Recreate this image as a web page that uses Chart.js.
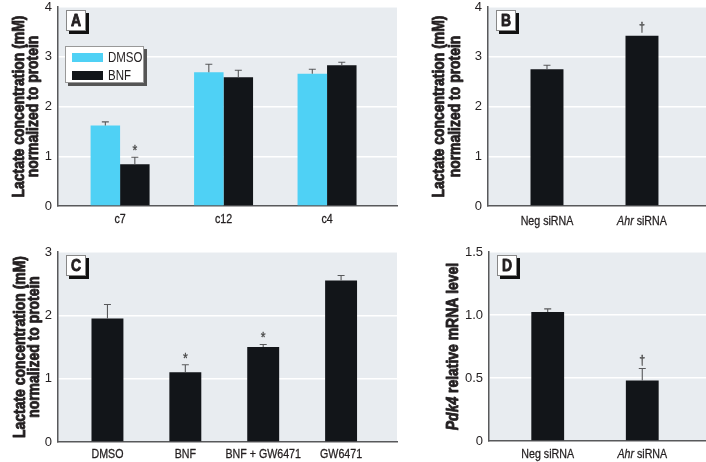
<!DOCTYPE html>
<html>
<head>
<meta charset="utf-8">
<script src="https://cdn.jsdelivr.net/npm/chart.js@4.4.1/dist/chart.umd.min.js"></script>
<style>
  body { margin: 0; background: #fff; width: 706px; height: 462px; position: relative; overflow: hidden; }
  canvas { position: absolute; }
</style>
</head>
<body>
<canvas id="cA" width="400" height="230" style="left:0;top:0"></canvas>
<canvas id="cB" width="276" height="230" style="left:430px;top:0"></canvas>
<canvas id="cC" width="400" height="232" style="left:0;top:230px"></canvas>
<canvas id="cD" width="276" height="232" style="left:430px;top:230px"></canvas>
<script>
// panel A
const catsA = ['c7', 'c12', 'c4'];
const dmsoA = [1.62, 2.69, 2.66];
const dmsoErrA = [0.07, 0.16, 0.09];
const bnfA = [0.84, 2.59, 2.83];
const bnfErrA = [0.14, 0.14, 0.06];
const bnfMarksA = ['*', '', ''];

// panel B
const catsB = ['Neg siRNA', 'Ahr siRNA'];
const valsB = [2.75, 3.42];
const errB = [0.08, 0.0];
const marksB = ['', '†'];

// panel C
const catsC = ['DMSO', 'BNF', 'BNF + GW6471', 'GW6471'];
const valsC = [1.95, 1.10, 1.50, 2.55];
const errC = [0.22, 0.12, 0.04, 0.08];
const marksC = ['', '*', '*', ''];

// panel D
const catsD = ['Neg siRNA', 'Ahr siRNA'];
const valsD = [1.024, 0.48];
const errD = [0.025, 0.095];
const marksD = ['', '†'];

const lactateTitle = ['Lactate concentration (mM)', 'normalized to protein'];
const pdkTitle = ['Pdk4 relative mRNA level'];

// no narrow font installed: squeeze Liberation Sans sideways instead
const FONT = "'Liberation Sans', Arial, sans-serif";
const SQUEEZE = 0.82;
const INK = '#231f20';
const PLOT_BG = '#e8ecf0';
const AXIS = '#58595b';
const CYAN = '#4fd1f5';
const BLACK = '#121519';
const ITALIC_WORDS = ['Ahr', 'Pdk4'];

function richParts(text) {
  const parts = [];
  let rest = text;
  while (rest.length) {
    let found = null, idx = -1;
    for (const w of ITALIC_WORDS) {
      const k = rest.indexOf(w);
      if (k >= 0 && (idx < 0 || k < idx)) { idx = k; found = w; }
    }
    if (!found) { parts.push({ t: rest, it: false }); break; }
    if (idx > 0) parts.push({ t: rest.slice(0, idx), it: false });
    parts.push({ t: found, it: true });
    rest = rest.slice(idx + found.length);
  }
  return parts;
}

// centred text at (x, y), narrowed, with italic words
function drawRich(ctx, text, x, y, size, weight) {
  const parts = richParts(text);
  const fontOf = p => (p.it ? 'italic ' : '') + weight + ' ' + size + 'px ' + FONT;
  let total = 0;
  parts.forEach(p => { ctx.font = fontOf(p); p.w = ctx.measureText(p.t).width; total += p.w; });
  ctx.save();
  ctx.translate(x, y);
  ctx.scale(SQUEEZE, 1);
  let cx = -total / 2;
  ctx.textAlign = 'left';
  ctx.strokeStyle = ctx.fillStyle;
  ctx.lineWidth = weight === 'bold' ? 0.9 : 0.3;
  ctx.lineJoin = 'round';
  parts.forEach(p => {
    ctx.font = fontOf(p);
    ctx.fillText(p.t, cx, 0);
    ctx.strokeText(p.t, cx, 0);
    cx += p.w;
  });
  ctx.restore();
}

const panelPlugin = {
  id: 'panel',
  beforeDraw(chart) {
    const { ctx, chartArea: a } = chart;
    ctx.save();
    ctx.fillStyle = PLOT_BG;
    ctx.fillRect(a.left, a.top, a.right - a.left, a.bottom - a.top);
    ctx.restore();
  },
  afterDatasetsDraw(chart) {
    const { ctx } = chart;
    const y = chart.scales.y;
    chart.data.datasets.forEach((ds, di) => {
      const meta = chart.getDatasetMeta(di);
      meta.data.forEach((bar, i) => {
        const err = ds.errors[i];
        const top = y.getPixelForValue(ds.data[i].y + err);
        ctx.save();
        ctx.strokeStyle = AXIS;
        ctx.lineWidth = 1.1;
        if (err > 0) {
          ctx.beginPath();
          ctx.moveTo(bar.x, bar.y);
          ctx.lineTo(bar.x, top);
          ctx.moveTo(bar.x - 3.5, top);
          ctx.lineTo(bar.x + 3.5, top);
          ctx.stroke();
        }
        const m = ds.marks && ds.marks[i];
        if (m) {
          ctx.fillStyle = '#444';
          ctx.textBaseline = 'alphabetic';
          drawRich(ctx, m, bar.x, top - (m === '*' ? 2 : 5), m === '*' ? 15 : 13, 'normal');
        }
        ctx.restore();
      });
    });
  },
  afterDraw(chart, args, o) {
    const { ctx, chartArea: a } = chart;
    const xs = chart.scales.x;
    ctx.save();
    ctx.fillStyle = INK;
    ctx.textBaseline = 'middle';
    // category labels
    o.cats.forEach((c, i) => drawRich(ctx, c, xs.getPixelForValue(i), a.bottom + o.labelGap, 13, 'normal'));
    // y title
    const cy = (a.top + a.bottom) / 2;
    o.title.forEach((line, k) => {
      ctx.save();
      ctx.translate(o.titleX[k], cy);
      ctx.rotate(-Math.PI / 2);
      drawRich(ctx, line, 0, 0, 17, 'bold');
      ctx.restore();
    });
    // panel letter
    const bx = a.left + 8, by = a.top + 3;
    ctx.fillStyle = '#111';
    ctx.fillRect(bx + 3, by + 3, 20, 21);
    ctx.fillStyle = '#fff';
    ctx.fillRect(bx, by, 20, 21);
    ctx.strokeStyle = '#888';
    ctx.lineWidth = 1;
    ctx.strokeRect(bx + 0.5, by + 0.5, 19, 20);
    ctx.fillStyle = INK;
    drawRich(ctx, o.letter, bx + 10, by + 11, 17, 'bold');
    // legend
    if (o.legend) {
      const lx = a.left + 7, ly = a.top + 39;
      ctx.fillStyle = '#555';
      ctx.fillRect(lx + 3, ly + 3, 79, 37);
      ctx.fillStyle = '#fff';
      ctx.fillRect(lx, ly, 79, 37);
      ctx.strokeStyle = '#999';
      ctx.strokeRect(lx + 0.5, ly + 0.5, 78, 36);
      chart.data.datasets.forEach((ds, k) => {
        const sy = ly + 7 + k * 18;
        ctx.fillStyle = ds.backgroundColor;
        ctx.fillRect(lx + 7, sy, 31, 9);
        ctx.fillStyle = INK;
        ctx.font = '14px ' + FONT;
        ctx.save();
        ctx.translate(lx + 43, sy + 5);
        ctx.scale(SQUEEZE, 1);
        ctx.textAlign = 'left';
        ctx.fillText(ds.label, 0, 0);
        ctx.restore();
      });
    }
    ctx.restore();
  }
};

function points(vals) {
  return vals.map((v, i) => ({ x: i, y: v }));
}

function makePanel(id, p) {
  return new Chart(document.getElementById(id), {
    type: 'bar',
    data: { datasets: p.datasets },
    options: {
      responsive: false,
      animation: false,
      layout: { padding: { top: p.top, right: p.right, left: 0, bottom: 0 } },
      plugins: {
        legend: { display: false },
        tooltip: { enabled: false },
        panel: { cats: p.cats, title: p.title, titleX: p.titleX, letter: p.letter, legend: p.legend, labelGap: p.labelGap }
      },
      scales: {
        x: {
          type: 'linear',
          offset: false,
          min: p.xMin,
          max: p.xMax,
          afterBuildTicks: s => { s.ticks = p.cats.map((c, i) => ({ value: i })); },
          afterFit: s => { s.height = p.xH; },
          ticks: { display: false },
          grid: { display: false },
          border: { display: true, color: AXIS, width: 1.5 }
        },
        y: {
          min: 0,
          max: p.yMax,
          afterFit: s => { s.width = p.yW; s.paddingTop = 0; s.paddingBottom = 0; },
          ticks: {
            stepSize: p.step,
            padding: 6,
            color: INK,
            font: { family: FONT, size: 13, lineHeight: 1 },
            callback: p.fmt || (v => v)
          },
          grid: { color: '#ffffff', lineWidth: 1.5, drawTicks: false },
          border: { color: AXIS, width: 1.5 }
        }
      }
    },
    plugins: [panelPlugin]
  });
}

makePanel('cA', {
  cats: catsA, title: lactateTitle, titleX: [19, 33], letter: 'A', legend: true,
  top: 7, right: 3, yW: 58, xH: 24, labelGap: 13,
  xMin: -0.6, xMax: 2.676, yMax: 4, step: 1,
  datasets: [
    { label: 'DMSO', data: points(dmsoA), errors: dmsoErrA, backgroundColor: CYAN,
      categoryPercentage: 0.57, barPercentage: 1 },
    { label: 'BNF', data: points(bnfA), errors: bnfErrA, marks: bnfMarksA, backgroundColor: BLACK,
      categoryPercentage: 0.57, barPercentage: 1 }
  ]
});

makePanel('cB', {
  cats: catsB, title: lactateTitle, titleX: [9, 25], letter: 'B', legend: false,
  top: 7, right: 0, yW: 58, xH: 24, labelGap: 15,
  xMin: -0.621, xMax: 1.674, yMax: 4, step: 1,
  datasets: [
    { label: 'B', data: points(valsB), errors: errB, marks: marksB, backgroundColor: BLACK,
      categoryPercentage: 0.347, barPercentage: 1 }
  ]
});

makePanel('cC', {
  cats: catsC, title: lactateTitle, titleX: [20, 34], letter: 'C', legend: false,
  top: 22, right: 3, yW: 58, xH: 20, labelGap: 12,
  xMin: -0.635, xMax: 3.718, yMax: 3, step: 1,
  datasets: [
    { label: 'C', data: points(valsC), errors: errC, marks: marksC, backgroundColor: BLACK,
      categoryPercentage: 0.41, barPercentage: 1 }
  ]
});

makePanel('cD', {
  cats: catsD, title: pdkTitle, titleX: [23], letter: 'D', legend: false,
  top: 22, right: 0, yW: 59, xH: 21, labelGap: 13,
  xMin: -0.621, xMax: 1.674, yMax: 1.5, step: 0.5,
  fmt: v => (v === 0 ? '0' : v.toFixed(1)),
  datasets: [
    { label: 'D', data: points(valsD), errors: errD, marks: marksD, backgroundColor: BLACK,
      categoryPercentage: 0.347, barPercentage: 1 }
  ]
});
</script>
</body>
</html>
